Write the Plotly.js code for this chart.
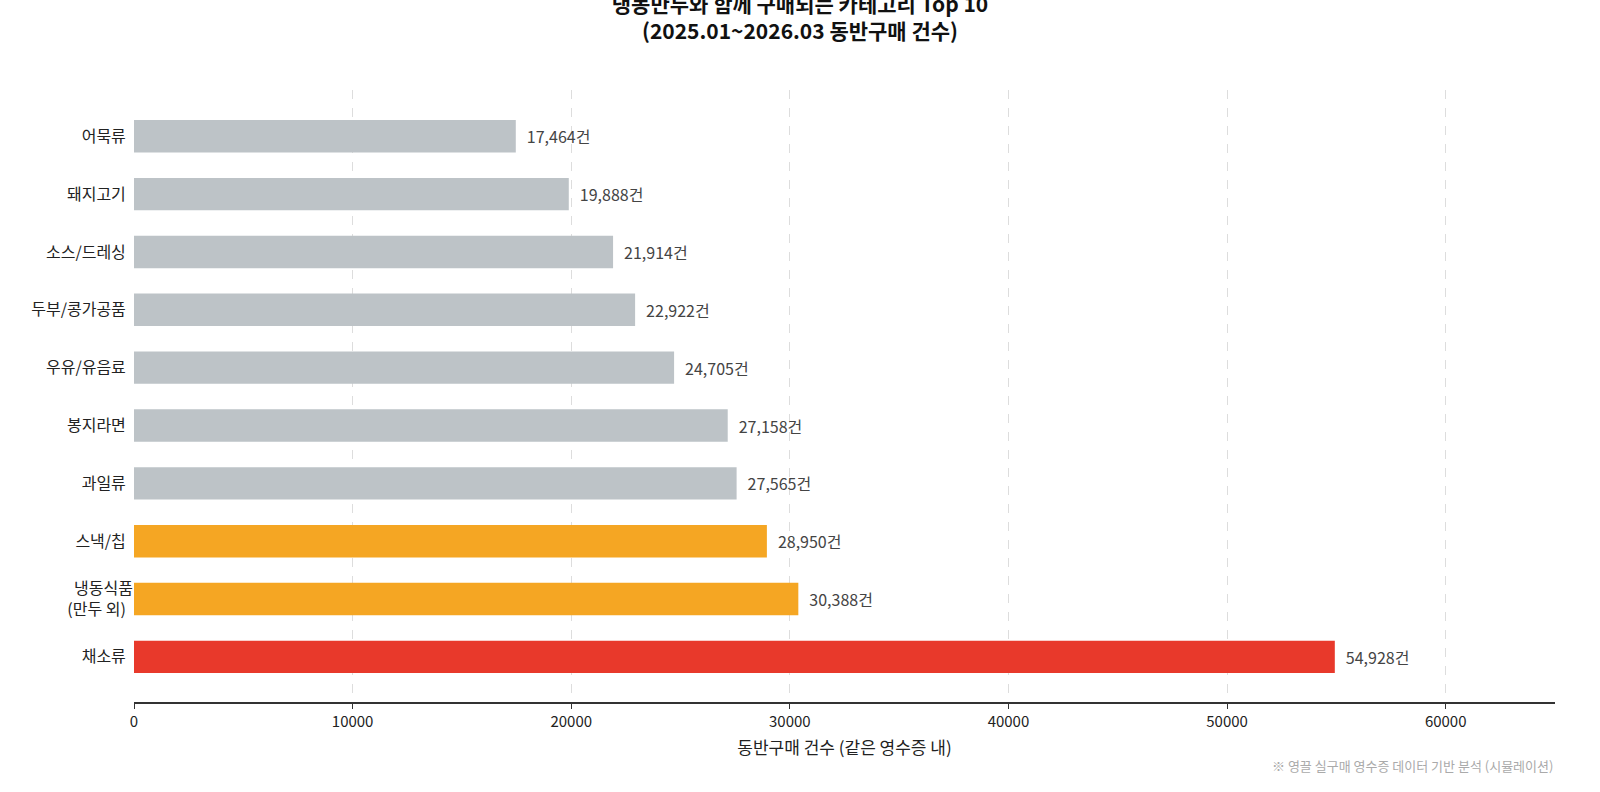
<!DOCTYPE html>
<html>
<head>
<meta charset="utf-8">
<script src="https://cdn.plot.ly/plotly-3.0.1.min.js"></script>
<style>body{margin:0;background:#fff}#chart{width:1600px;height:792px}</style>
</head>
<body>
<div id="chart"></div>
<script>
// bottom to top
var categories = ['채소류', '냉동식품<br>(만두 외)', '스낵/칩', '과일류', '봉지라면', '우유/유음료', '두부/콩가공품', '소스/드레싱', '돼지고기', '어묵류'];
var counts = [54928, 30388, 28950, 27565, 27158, 24705, 22922, 21914, 19888, 17464];
var barColors = ['#e8392b', '#f5a623', '#f5a623', '#bdc3c7', '#bdc3c7', '#bdc3c7', '#bdc3c7', '#bdc3c7', '#bdc3c7', '#bdc3c7'];

var font = 'Noto Sans CJK KR, Noto Sans, sans-serif';

var data = [{
  type: 'bar',
  orientation: 'h',
  y: categories,
  x: counts,
  marker: { color: barColors },
  width: 0.56,
  text: counts.map(function (v) { return '\u2002' + v.toLocaleString('en-US') + '건'; }),
  textposition: 'outside',
  textfont: { size: 16, color: '#444' },
  cliponaxis: false,
  hoverinfo: 'x+y'
}];

var layout = {
  width: 1600, height: 792,
  font: { family: font, color: '#222' },
  paper_bgcolor: '#fff', plot_bgcolor: '#fff',
  margin: { l: 134, r: 45, t: 90, b: 90 },
  title: {
    text: '<b>냉동만두와 함께 구매되는 카테고리 Top 10<br>(2025.01~2026.03 동반구매 건수)</b>',
    x: 0.5, xanchor: 'center', y: 0.985, yanchor: 'top',
    font: { size: 21, color: '#111' }
  },
  xaxis: {
    range: [0, 65000],
    dtick: 10000,
    tickformat: 'd',
    showgrid: true, gridcolor: '#dddddd', griddash: 'dash', gridwidth: 1,
    zeroline: false,
    showline: true, linecolor: '#333', linewidth: 1.5,
    ticks: 'outside', ticklen: 5, tickcolor: '#333',
    tickfont: { size: 15 },
    title: { text: '동반구매 건수 (같은 영수증 내)', font: { size: 17 }, standoff: 12 }
  },
  yaxis: {
    range: [-0.78, 9.8],
    showgrid: false, zeroline: false, showline: false,
    ticks: '', ticksuffix: '  ',
    tickfont: { size: 16, color: '#222' }
  },
  showlegend: false,
  annotations: [{
    text: '※ 영끌 실구매 영수증 데이터 기반 분석 (시뮬레이션)',
    xref: 'paper', yref: 'paper', x: 1.0, y: -0.085,
    xanchor: 'right', yanchor: 'top', showarrow: false,
    font: { size: 13, color: '#aaa' }
  }]
};

Plotly.newPlot('chart', data, layout, { displayModeBar: false });
</script>
</body>
</html>
